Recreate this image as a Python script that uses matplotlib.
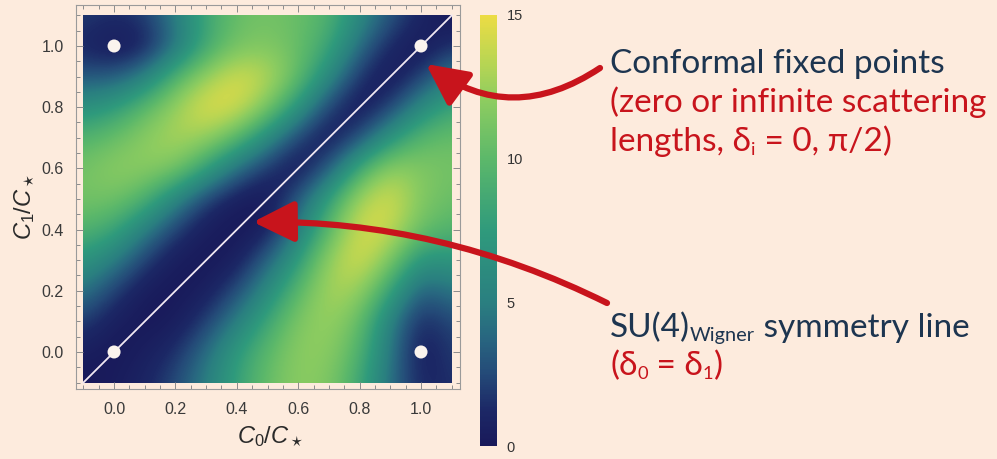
import numpy as np
import matplotlib
matplotlib.use("Agg")
import matplotlib.pyplot as plt
from matplotlib.colors import LinearSegmentedColormap
from matplotlib.patches import FancyArrowPatch, Rectangle

# ---------------- data ----------------
c0_grid = [-0.1, 0.0, 0.1, 0.2, 0.3, 0.4, 0.5, 0.6, 0.7, 0.8, 0.9, 1.0, 1.1]
c1_grid = [-0.1, 0.0, 0.1, 0.2, 0.3, 0.4, 0.5, 0.6, 0.7, 0.8, 0.9, 1.0, 1.1]
# values, rows = C1 (bottom -> top), cols = C0 (left -> right)
z_row_m01 = [0.0, 0.3, 1.0, 2.5, 5.0, 8.0, 10.5, 12.0, 11.5, 8.5, 4.0, 1.0, 1.5]
z_row_000 = [0.5, 0.0, 0.5, 1.5, 4.0, 7.5, 10.0, 12.0, 12.0, 9.5, 4.5, 0.3, 2.0]
z_row_010 = [2.0, 0.5, 0.0, 0.3, 2.0, 5.0, 8.5, 11.5, 12.5, 10.5, 5.0, 1.0, 2.5]
z_row_020 = [4.5, 2.0, 0.3, 0.0, 0.5, 2.5, 6.0, 10.0, 13.0, 12.5, 8.0, 3.0, 4.5]
z_row_030 = [7.0, 5.0, 2.0, 0.3, 0.0, 0.5, 3.5, 7.5, 12.5, 14.5, 11.5, 6.5, 7.0]
z_row_040 = [9.5, 8.5, 5.0, 2.0, 0.3, 0.0, 0.5, 5.0, 10.0, 14.5, 14.0, 10.5, 9.5]
z_row_050 = [11.0, 11.0, 9.5, 5.5, 2.0, 0.3, 0.0, 3.0, 8.0, 13.0, 14.5, 11.5, 10.5]
z_row_060 = [11.0, 12.0, 12.0, 11.5, 8.0, 4.0, 1.5, 0.0, 3.0, 9.0, 12.5, 11.5, 11.0]
z_row_070 = [9.5, 10.5, 12.0, 13.0, 12.5, 10.0, 6.0, 2.0, 0.0, 2.5, 7.0, 10.0, 10.5]
z_row_080 = [6.5, 7.5, 10.0, 12.5, 14.8, 14.5, 11.5, 7.0, 2.0, 0.0, 2.0, 6.0, 8.5]
z_row_090 = [3.0, 3.0, 5.0, 9.5, 12.5, 14.5, 13.5, 10.5, 6.0, 1.5, 0.0, 2.0, 5.0]
z_row_100 = [1.0, 0.0, 0.5, 4.0, 8.5, 11.0, 11.5, 10.5, 8.5, 4.0, 1.0, 0.0, 1.5]
z_row_110 = [2.0, 1.5, 2.0, 5.0, 8.5, 10.5, 11.0, 10.5, 9.5, 6.0, 3.0, 1.0, 0.0]

symmetry_line = [-0.1, 1.1]
fixed_c0 = [0.0, 0.0, 1.0, 1.0]
fixed_c1 = [0.0, 1.0, 0.0, 1.0]

axis_ticks = [0.0, 0.2, 0.4, 0.6, 0.8, 1.0]
axis_ticklabels = ["0.0", "0.2", "0.4", "0.6", "0.8", "1.0"]
cbar_ticks = [0, 5, 10, 15]
cbar_ticklabels = ["0", "5", "10", "15"]

# ---------------- style ----------------
W, H = 997, 459
BG = "#fdebdd"
RED = "#c8141c"
NAVY = "#1d3550"
ANN_FAM = ["Lato", "DejaVu Sans"]

plt.rcParams["font.family"] = ["Liberation Sans", "DejaVu Sans"]
plt.rcParams["mathtext.fontset"] = "custom"
plt.rcParams["mathtext.rm"] = "Liberation Sans"
plt.rcParams["mathtext.it"] = "Liberation Sans:italic"

cmap = LinearSegmentedColormap.from_list("mm", [
    (0.000, "#19195a"), (0.083, "#1c2866"), (0.167, "#244a78"), (0.250, "#286680"),
    (0.333, "#2a7f80"), (0.500, "#2f9a7c"), (0.667, "#5cb86a"), (0.800, "#8ccc60"),
    (0.900, "#bcd652"), (1.000, "#ecdc44")])

fig = plt.figure(figsize=(W / 100, H / 100), dpi=100, facecolor=BG)

def px2fig(x, y):
    return x / W, 1 - y / H

ax = fig.add_axes([76 / W, 1 - 389 / H, 384 / W, 384 / H])
ax.set_facecolor(BG)

Z = np.array([z_row_m01, z_row_000, z_row_010, z_row_020, z_row_030, z_row_040,
              z_row_050, z_row_060, z_row_070, z_row_080, z_row_090, z_row_100, z_row_110])
step = c0_grid[1] - c0_grid[0]
im = ax.imshow(Z, origin="lower", cmap=cmap, vmin=0, vmax=15, interpolation="bicubic",
               extent=[c0_grid[0] - step / 2, c0_grid[-1] + step / 2,
                       c1_grid[0] - step / 2, c1_grid[-1] + step / 2], aspect="auto")
im.set_clip_path(Rectangle((c0_grid[0], c1_grid[0]), c0_grid[-1] - c0_grid[0],
                           c1_grid[-1] - c1_grid[0], transform=ax.transData))

ax.plot(symmetry_line, symmetry_line, color="#f1e8f2", lw=1.3, zorder=3)
ax.scatter(fixed_c0, fixed_c1, s=88, color="#fbf4ee", edgecolors="none", zorder=4)

ax.set_xlim(-0.124, 1.127)
ax.set_ylim(-0.121, 1.134)
ax.set_xticks(axis_ticks, axis_ticklabels)
ax.set_yticks(axis_ticks, axis_ticklabels)
minor = np.arange(-0.1, 1.1001, 0.05)
ax.set_xticks(minor, minor=True)
ax.set_yticks(minor, minor=True)
ax.tick_params(which="both", direction="in", top=True, right=True, color="#8c8c8c",
               width=0.7)
ax.tick_params(which="major", length=5, labelsize=11.5, labelcolor="#3a3a3a", pad=9)
ax.tick_params(which="minor", length=3)
for s in ax.spines.values():
    s.set_color("#9a9a9a")
    s.set_linewidth(0.8)

fig.text(*px2fig(270, 437), r"$C_0/C_\star$", fontsize=17, color="#2a2a2a",
         ha="center", va="center")
fig.text(*px2fig(25, 207), r"$C_1/C_\star$", fontsize=17, color="#2a2a2a",
         ha="center", va="center", rotation=90)

cax = fig.add_axes([480 / W, 1 - 446 / H, 17 / W, 431 / H])
cb = fig.colorbar(im, cax=cax)
cb.outline.set_visible(False)
cb.set_ticks(cbar_ticks, labels=cbar_ticklabels)
cax.tick_params(length=0, labelsize=10.5, labelcolor="#333333", pad=7)

# ---------------- annotations ----------------
renderer = fig.canvas.get_renderer()

def rich(x, y, parts, size=24):
    for s, scale, color, dy in parts:
        t = fig.text(*px2fig(x, y + dy), s, fontsize=size * scale, color=color,
                     family=ANN_FAM, ha="left", va="baseline")
        x += t.get_window_extent(renderer).width

rich(610, 73, [("Conformal fixed points", 1, NAVY, 0)])
rich(610, 112, [("(zero or infinite scattering", 1, RED, 0)])
rich(610, 151, [("lengths, δ", 1, RED, 0), ("i", 0.55, RED, 4), (" = 0, π/2)", 1, RED, 0)])
rich(610, 337, [("SU(4)", 1, NAVY, 0), ("Wigner", 0.6, NAVY, 4),
                (" symmetry line", 1, NAVY, 0)])
rich(610, 375, [("(δ", 1, RED, 0), ("0", 0.55, RED, 4), (" = δ", 1, RED, 0),
                ("1", 0.55, RED, 4), (")", 1, RED, 0)])

for (xa, ya), (xb, yb), rad in [((600, 68), (426, 64), -0.35),
                                ((607, 303), (253, 222), 0.12)]:
    arr = FancyArrowPatch(posA=px2fig(xa, ya), posB=px2fig(xb, yb),
                          transform=fig.transFigure,
                          arrowstyle="-|>,head_length=1.25,head_width=0.62",
                          mutation_scale=20, connectionstyle=f"arc3,rad={rad}",
                          color=RED, lw=4.5, shrinkA=0, shrinkB=0, zorder=10)
    fig.add_artist(arr)

fig.savefig("out.png", dpi=100, facecolor=BG)
